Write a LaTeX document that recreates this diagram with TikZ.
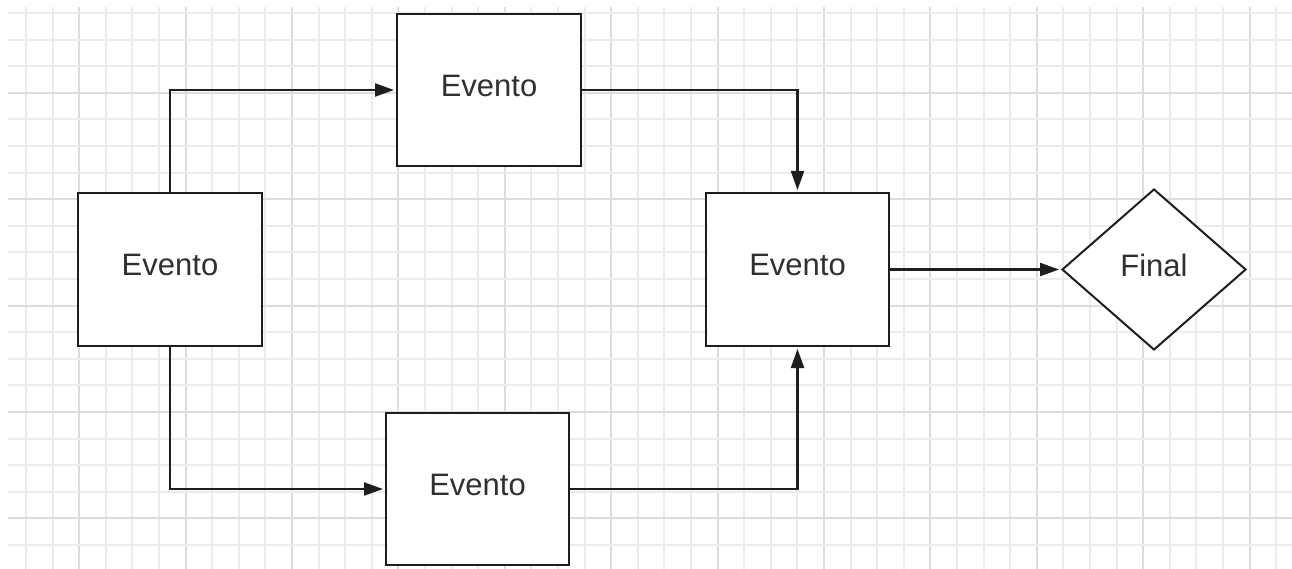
\documentclass[tikz,border=0pt]{standalone}
\usepackage{fontspec}
\setmainfont{Liberation Sans}
\usetikzlibrary{shapes.geometric,arrows.meta}
\definecolor{gridminor}{HTML}{ECECEC}
\definecolor{gridmajor}{HTML}{DDDDDD}
\definecolor{inkline}{HTML}{1E1E1E}
\definecolor{inktext}{HTML}{303030}
\tikzset{
  eventbox/.style={draw=inkline, line width=2pt, fill=white, rectangle,
    minimum width=184pt, minimum height=153pt, inner sep=0pt,
    font=\fontsize{31}{36}\selectfont, text=inktext, text depth=9pt},
  endbox/.style={draw=inkline, line width=2pt, fill=white, diamond,
    minimum width=184pt, minimum height=161pt, inner sep=0pt,
    font=\fontsize{31}{36}\selectfont, text=inktext, text depth=8pt},
  flow/.style={draw=inkline, line width=2.2pt,
    -{Triangle[length=19pt,width=13pt]}, shorten >=2pt},
  gridline/.style={line width=2pt},
}
\begin{document}
\begin{tikzpicture}[x=1pt,y=-1pt]
\useasboundingbox (0,0) rectangle (1292,569);
\fill[white] (0,0) rectangle (1292,569);
% background grid: minor lines every 26.6, every fourth one darker
\begin{scope}
  \clip (8,7) rectangle (1292,569);
  \foreach \k in {0,...,47} {
    \pgfmathsetmacro{\xx}{round(26+26.6*\k)}
    \pgfmathtruncatemacro{\m}{mod(\k,4)}
    \ifnum\m=2
      \draw[gridline, gridmajor] (\xx,7) -- (\xx,569);
    \else
      \draw[gridline, gridminor] (\xx,7) -- (\xx,569);
    \fi
  }
  \foreach \k in {0,...,20} {
    \pgfmathsetmacro{\yy}{round(13+26.6*\k)}
    \pgfmathtruncatemacro{\m}{mod(\k,4)}
    \ifnum\m=3
      \draw[gridline, gridmajor] (8,\yy) -- (1292,\yy);
    \else
      \draw[gridline, gridminor] (8,\yy) -- (1292,\yy);
    \fi
  }
\end{scope}

% events
\node[eventbox] (start) at (170,269.5) {Evento};
\node[eventbox, minimum height=152pt] (upper) at (489,90) {Evento};
\node[eventbox, minimum width=183pt, minimum height=152pt] (lower) at (477.5,489) {Evento};
\node[eventbox, minimum width=183pt] (merge) at (797.5,269.5) {Evento};
\node[endbox] (final) at (1154,269.5) {Final};

% connectors
\draw[flow] (start.north) |- (upper.west);
\draw[flow] (start.south) |- (lower.west);
\draw[flow] (upper.east) -| (merge.north);
\draw[flow] (lower.east) -| (merge.south);
\draw[flow] (merge.east) -- (final.west);
\end{tikzpicture}
\end{document}
